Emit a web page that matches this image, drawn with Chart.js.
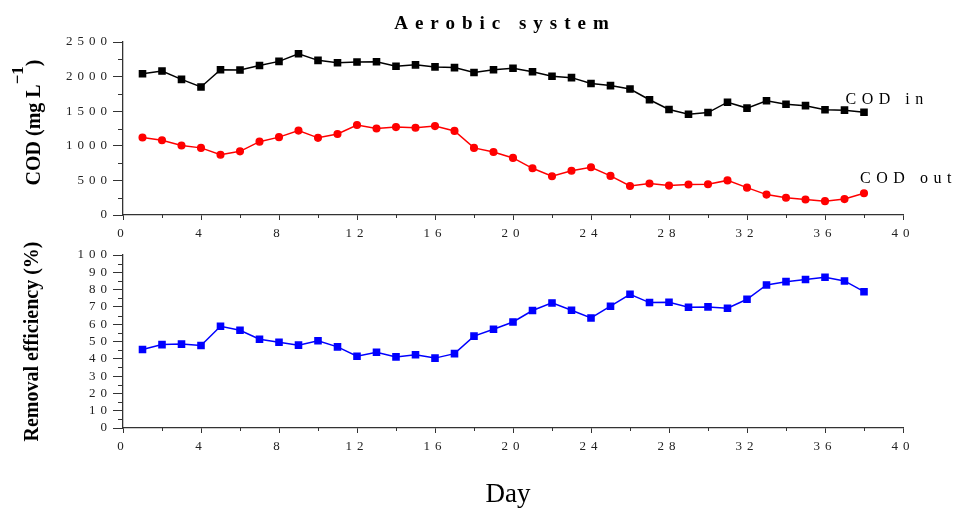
<!DOCTYPE html>
<html>
<head>
<meta charset="utf-8">
<script src="https://cdn.jsdelivr.net/npm/chart.js@4.4.1/dist/chart.umd.min.js"></script>
<style>
  html, body { margin: 0; padding: 0; background: #fff; }
  #wrap { position: relative; width: 954px; height: 514px; overflow: hidden; }
  .box { position: absolute; left: 0; width: 954px; }
</style>
</head>
<body>
<div id="wrap">
  <div class="box" style="top:0;height:240px"><canvas id="codChart"></canvas></div>
  <div class="box" style="top:240px;height:274px"><canvas id="effChart"></canvas></div>
</div>
<script>
// values
const days = [1, 2, 3, 4, 5, 6, 7, 8, 9, 10, 11, 12, 13, 14, 15, 16, 17, 18, 19,
  20, 21, 22, 23, 24, 25, 26, 27, 28, 29, 30, 31, 32, 33, 34, 35, 36, 37, 38];
const codIn = [2040, 2080, 1960, 1850, 2100, 2095, 2160, 2220, 2330, 2235, 2200, 2210, 2215,
  2150, 2170, 2140, 2130, 2060, 2100, 2120, 2070, 2005, 1985, 1900, 1870, 1820, 1665,
  1525, 1455, 1480, 1630, 1545, 1650, 1600, 1580, 1520, 1515, 1485];
const codOut = [1120, 1080, 1005, 970, 870, 920, 1060, 1125, 1220, 1115, 1170, 1300, 1250,
  1270, 1260, 1285, 1215, 970, 910, 825, 675, 560, 640, 690, 565, 420, 455,
  425, 440, 445, 500, 395, 295, 250, 225, 200, 230, 315];
const removal = [45.4, 48.2, 48.5, 47.7, 58.8, 56.5, 51.3, 49.6, 47.9, 50.4, 46.9, 41.5, 43.8,
  41.1, 42.3, 40.4, 43.0, 53.1, 57.1, 61.3, 67.9, 72.3, 68.1, 63.6, 70.4, 77.3, 72.5,
  72.7, 69.8, 70.0, 69.2, 74.4, 82.7, 84.6, 85.8, 87.1, 85.0, 78.8];

const dayTicks = [0, 4, 8, 12, 16, 20, 24, 28, 32, 36, 40];
const codTicks = [0, 500, 1000, 1500, 2000, 2500];
const effTicks = [0, 10, 20, 30, 40, 50, 60, 70, 80, 90, 100];

const serif = '"Liberation Serif", "Times New Roman", serif';
const axisColor = '#333';

const pts = (vals) => vals.map((v, i) => ({ x: days[i], y: v }));

// minor ticks halfway between the major ones, plus the extra texts
const decor = {
  id: 'decor',
  beforeDraw(chart) {
    chart.ctx.letterSpacing = '5px';
  },
  afterDraw(chart, args, opts) {
    const ctx = chart.ctx;
    const xs = chart.scales.x, ys = chart.scales.y;
    ctx.save();
    ctx.letterSpacing = '0px';
    ctx.strokeStyle = axisColor;
    ctx.lineWidth = 1;
    ctx.beginPath();
    const xv = xs.ticks.map(t => t.value);
    for (let i = 0; i < xv.length - 1; i++) {
      const px = Math.round(xs.getPixelForValue((xv[i] + xv[i + 1]) / 2)) + 0.5;
      ctx.moveTo(px, xs.top);
      ctx.lineTo(px, xs.top + 3);
    }
    const yv = ys.ticks.map(t => t.value);
    for (let i = 0; i < yv.length - 1; i++) {
      const py = Math.round(ys.getPixelForValue((yv[i] + yv[i + 1]) / 2)) + 0.5;
      ctx.moveTo(ys.right - 5, py);
      ctx.lineTo(ys.right, py);
    }
    ctx.stroke();

    ctx.fillStyle = '#000';
    ctx.textBaseline = 'alphabetic';
    (opts.texts || []).forEach(t => {
      ctx.font = t.font;
      ctx.letterSpacing = (t.spacing || 0) + 'px';
      ctx.textAlign = t.align || 'left';
      let px = t.px, py = t.py;
      if (t.dx !== undefined) px = xs.getPixelForValue(t.dx);
      if (t.dy !== undefined) py = ys.getPixelForValue(t.dy);
      ctx.fillText(t.text, px, py);
    });

    // rotated y axis title
    if (opts.yTitle) {
      const yt = opts.yTitle;
      ctx.letterSpacing = '0px';
      ctx.textAlign = 'left';
      let total = 0;
      yt.parts.forEach(p => {
        ctx.font = p.font;
        total += (p.advance !== undefined) ? p.advance : ctx.measureText(p.text).width;
      });
      ctx.translate(yt.x, (chart.chartArea.top + chart.chartArea.bottom) / 2 + (yt.shift || 0));
      ctx.rotate(-Math.PI / 2);
      let cur = -total / 2;
      yt.parts.forEach(p => {
        ctx.font = p.font;
        ctx.fillText(p.text, cur, -(p.rise || 0));
        cur += (p.advance !== undefined) ? p.advance : ctx.measureText(p.text).width;
      });
    }
    ctx.restore();
  }
};

const xAxis = (padding) => ({
  type: 'linear',
  min: 0,
  max: 40,
  afterBuildTicks: s => { s.ticks = dayTicks.map(v => ({ value: v })); },
  afterFit: s => { s.height = 25; },
  border: { color: axisColor, width: 1.3 },
  grid: { drawOnChartArea: false, tickLength: 5, color: axisColor, tickWidth: 1 },
  ticks: {
    color: '#222', padding: padding, maxRotation: 0, autoSkip: false,
    font: { family: serif, size: 13 },
    callback: v => String(v)
  }
});

const yAxis = (maxV, list) => ({
  min: 0,
  max: maxV,
  afterBuildTicks: s => { s.ticks = list.map(v => ({ value: v })); },
  afterFit: s => { s.width = 123; },
  border: { color: axisColor, width: 1.3 },
  grid: { drawOnChartArea: false, tickLength: 10, color: axisColor, tickWidth: 1 },
  ticks: {
    color: '#222', padding: 1, autoSkip: false,
    font: { family: serif, size: 13 },
    callback: v => String(v)
  }
});

Chart.defaults.animation = false;
Chart.defaults.plugins.legend.display = false;
Chart.defaults.plugins.tooltip.enabled = false;

const codChart = new Chart(document.getElementById('codChart'), {
  type: 'line',
  data: {
    datasets: [{
      label: 'COD in',
      data: pts(codIn),
      borderColor: '#000',
      backgroundColor: '#000',
      borderWidth: 1.5,
      pointStyle: 'rect',
      pointRadius: 4.3,
      tension: 0
    }, {
      label: 'COD out',
      data: pts(codOut),
      borderColor: '#ff0000',
      backgroundColor: '#ff0000',
      borderWidth: 1.5,
      pointStyle: 'circle',
      pointRadius: 3.3,
      tension: 0
    }]
  },
  options: {
    responsive: true,
    maintainAspectRatio: false,
    layout: { padding: { top: 42, right: 51, left: 0, bottom: 0 } },
    scales: { x: xAxis(6), y: yAxis(2500, codTicks) },
    plugins: {
      decor: {
        texts: [
          { text: 'Aerobic system', font: 'bold 19px ' + serif, spacing: 7, align: 'center', px: 505, py: 29 },
          { text: 'COD in', font: '16px ' + serif, spacing: 5.5, dx: 37.05, dy: 1600 },
          { text: 'COD out', font: '16px ' + serif, spacing: 5.5, dx: 37.8, dy: 462 }
        ],
        yTitle: {
          x: 40,
          shift: -6,
          parts: [
            { text: 'COD (mg L', font: 'bold 20px ' + serif },
            { text: '\u22121', font: 'bold 17px ' + serif, rise: 17 },
            { text: ')', font: 'bold 20px ' + serif }
          ]
        }
      }
    }
  },
  plugins: [decor]
});

const effChart = new Chart(document.getElementById('effChart'), {
  type: 'line',
  data: {
    datasets: [{
      label: 'Removal efficiency',
      data: pts(removal),
      borderColor: '#0000ff',
      backgroundColor: '#0000ff',
      borderWidth: 1.5,
      pointStyle: 'rect',
      pointRadius: 4.3,
      tension: 0
    }]
  },
  options: {
    responsive: true,
    maintainAspectRatio: false,
    layout: { padding: { top: 15, right: 51, left: 0, bottom: 61 } },
    scales: { x: xAxis(6), y: yAxis(100, effTicks) },
    plugins: {
      decor: {
        texts: [
          { text: 'Day', font: '27px ' + serif, align: 'center', px: 508, py: 262 }
        ],
        yTitle: {
          x: 38,
          parts: [{ text: 'Removal efficiency (%)', font: 'bold 20px ' + serif }]
        }
      }
    }
  },
  plugins: [decor]
});
</script>
</body>
</html>
